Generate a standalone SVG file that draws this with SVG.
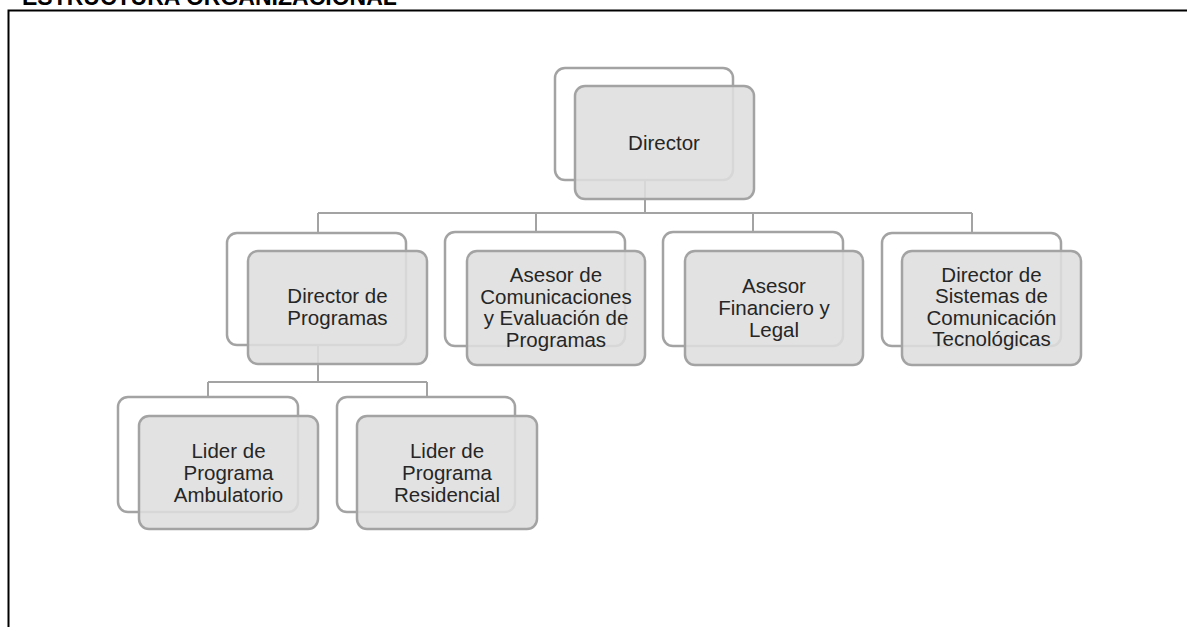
<svg xmlns="http://www.w3.org/2000/svg" width="1187" height="627" viewBox="0 0 1187 627">
<style>
.back{fill:#ffffff;stroke:#a3a3a3;stroke-width:2.5}
.front{fill:#dedede;fill-opacity:0.88;stroke:#a3a3a3;stroke-width:2.5}
.t{font-family:"Liberation Sans",Arial,sans-serif;font-size:20.5px;fill:#262626;text-anchor:middle}
.c{fill:none;stroke:#a3a3a3;stroke-width:2}
</style>
<rect x="0" y="0" width="1187" height="627" fill="#ffffff"/>
<text x="22" y="5" font-family="Liberation Sans,Arial,sans-serif" font-size="23" font-weight="bold" fill="#000">ESTRUCTURA ORGANIZACIONAL</text>
<path d="M8.5 627 V10.5 H1187" fill="none" stroke="#000" stroke-width="2"/>
<g id="connectors">
<path class="c" d="M645 180 V213 M318 213 H972 M318 213 V233 M536 213 V232 M753 213 V232 M972 213 V233"/>
<path class="c" d="M318 345 V382 M208 382 H427 M208 382 V397 M427 382 V397"/>
</g>
<g id="director">
<rect class="back" x="555" y="68" width="178" height="112" rx="10"/>
<rect class="front" x="575" y="86" width="179" height="113" rx="10"/>
<text class="t" x="664" y="150">Director</text>
</g>
<g id="director-programas">
<rect class="back" x="227" y="233" width="179" height="112" rx="10"/>
<rect class="front" x="248" y="251" width="179" height="113" rx="10"/>
<text class="t" x="337.5" y="303">Director de</text>
<text class="t" x="337.5" y="325">Programas</text>
</g>
<g id="asesor-comunicaciones">
<rect class="back" x="445" y="232" width="180" height="114" rx="10"/>
<rect class="front" x="467" y="251" width="178" height="114" rx="10"/>
<text class="t" x="556" y="282">Asesor de</text>
<text class="t" x="556" y="304">Comunicaciones</text>
<text class="t" x="556" y="325">y Evaluación de</text>
<text class="t" x="556" y="347">Programas</text>
</g>
<g id="asesor-financiero">
<rect class="back" x="663" y="232" width="180" height="114" rx="10"/>
<rect class="front" x="685" y="251" width="178" height="114" rx="10"/>
<text class="t" x="774" y="293">Asesor</text>
<text class="t" x="774" y="315">Financiero y</text>
<text class="t" x="774" y="337">Legal</text>
</g>
<g id="director-sistemas">
<rect class="back" x="882" y="233" width="179" height="113" rx="10"/>
<rect class="front" x="902" y="251" width="179" height="114" rx="10"/>
<text class="t" x="991.5" y="282">Director de</text>
<text class="t" x="991.5" y="303">Sistemas de</text>
<text class="t" x="991.5" y="325">Comunicación</text>
<text class="t" x="991.5" y="346">Tecnológicas</text>
</g>
<g id="lider-ambulatorio">
<rect class="back" x="118" y="397" width="180" height="115" rx="10"/>
<rect class="front" x="139" y="416" width="179" height="113" rx="10"/>
<text class="t" x="228.5" y="458">Lider de</text>
<text class="t" x="228.5" y="480">Programa</text>
<text class="t" x="228.5" y="502">Ambulatorio</text>
</g>
<g id="lider-residencial">
<rect class="back" x="337" y="397" width="178" height="115" rx="10"/>
<rect class="front" x="357" y="416" width="180" height="113" rx="10"/>
<text class="t" x="447" y="458">Lider de</text>
<text class="t" x="447" y="480">Programa</text>
<text class="t" x="447" y="502">Residencial</text>
</g>
</svg>
